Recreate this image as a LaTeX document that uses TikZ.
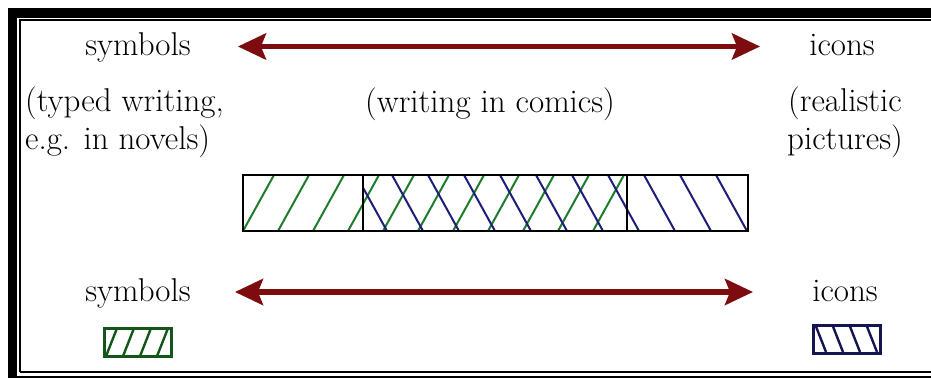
\documentclass[tikz,border=0pt]{standalone}
\usepackage{tikz}
\usetikzlibrary{arrows.meta, positioning, calc}
\definecolor{arrowred}{RGB}{125,12,14}
\definecolor{hatchgreen}{RGB}{30,125,45}
\definecolor{hatchblue}{RGB}{30,30,120}
\definecolor{keygreen}{RGB}{20,85,25}
\definecolor{keyblue}{RGB}{20,20,80}
\tikzstyle{arrow} = [line width=5.5pt, draw=arrowred, {Stealth[length=28pt,width=26pt,inset=5pt]}-{Stealth[length=28pt,width=26pt,inset=5pt]}]
\tikzstyle{word} = [inner sep=0pt, font=\fontsize{33}{38}\selectfont, text height=26pt, text depth=7pt]
\tikzstyle{note} = [inner sep=0pt, font=\fontsize{33}{38}\selectfont]
\tikzstyle{section} = [rectangle, draw=black, line width=1.2pt, minimum height=56pt, inner sep=0pt, outer sep=0pt]
\tikzstyle{key} = [rectangle, line width=3pt, minimum width=67pt, minimum height=28pt, inner sep=0pt]
\tikzstyle{hatch} = [line width=2pt]

\begin{document}
\begin{tikzpicture}[x=1pt, y=1pt]
        \useasboundingbox (0,0) rectangle (931,378);

        % Rahmen
        \fill (8,360) rectangle (931,370);
        \fill (8,0) rectangle (17,370);
        \draw [line width=2pt] (20,6) -- (20,358) -- (931,358);
        \draw [line width=2pt] (20,6) -- (931,6);
        \draw [line width=1.5pt] (17,1) -- (931,1);

        % Obere Reihe
        \node (symTop) [word] at (138,331.5) {symbols};
        \node (iconsTop) [word] at (842,331.5) {icons};
        \draw [arrow, shorten <=47pt, shorten >=49pt] (symTop) -- (iconsTop);

        \node (typed) [note, align=left, anchor=west] at (25,255.5) {(typed writing,\\e.g. in novels)};
        \node (comics) [note, anchor=base] at (490,265) {(writing in comics)};
        \node (realistic) [note, align=center] at (845,255.5) {(realistic\\pictures)};

        % Balken
        \node (secSym) [section, minimum width=120pt] at (303,175) {};
        \node (secMix) [section, minimum width=264pt, right=0pt of secSym] {};
        \node (secIcon) [section, minimum width=121pt, right=0pt of secMix] {};

        \begin{scope}
            \clip (secSym.south west) rectangle (secMix.north east);
            \foreach \k in {-1,...,11}
                \draw [hatch, hatchgreen] ($(secSym.south west)+(35*\k,0)$) -- ++(31,56);
        \end{scope}
        \begin{scope}
            \clip (secMix.south west) rectangle (secIcon.north east);
            \foreach \k in {0,...,11}
                \draw [hatch, hatchblue] ($(secMix.north west)+(36*\k-7,0)$) -- ++(31,-56);
        \end{scope}
        \draw [line width=1.2pt] (secSym.south west) rectangle (secIcon.north east);
        \draw [line width=1.2pt] (secMix.south west) -- (secMix.north west);
        \draw [line width=1.2pt] (secMix.south east) -- (secMix.north east);

        % Untere Reihe
        \node (symBot) [word] at (138,86) {symbols};
        \node (iconsBot) [word] at (845,86) {icons};
        \draw [arrow, shorten <=44pt, shorten >=59pt] (symBot) -- (iconsBot);

        % Legende
        \node (keySym) [key, draw=keygreen] at (137.5,36) {};
        \node (keyIcon) [key, draw=keyblue] at (847,38.5) {};
        \begin{scope}
            \clip (keySym.south west) rectangle (keySym.north east);
            \foreach \k in {0,...,4}
                \draw [hatch, line width=2.4pt, keygreen] ($(keySym.south west)+(17*\k+3,0)$) -- ++(11,28);
        \end{scope}
        \begin{scope}
            \clip (keyIcon.south west) rectangle (keyIcon.north east);
            \foreach \k in {0,...,4}
                \draw [hatch, line width=2.4pt, keyblue] ($(keyIcon.north west)+(17*\k+3,0)$) -- ++(11,-28);
        \end{scope}
    \end{tikzpicture}
\end{document}
